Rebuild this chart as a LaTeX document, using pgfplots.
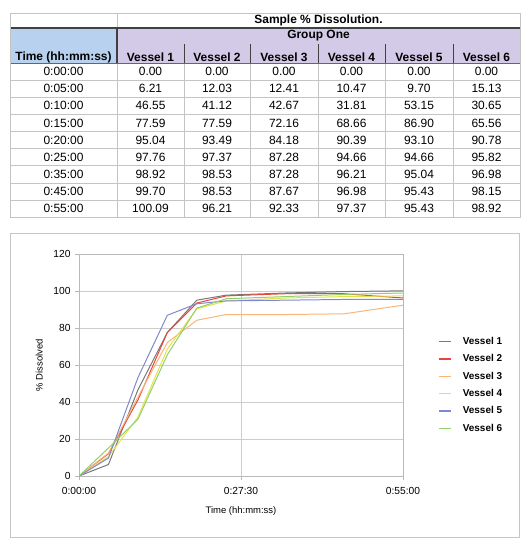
\documentclass[border=0pt]{standalone}
\usepackage{fontspec}
\setmainfont{Liberation Sans}
\usepackage{pgfplots}
\usepackage{pgfplotstable}
\pgfplotsset{compat=1.18}
\definecolor{hdblue}{HTML}{B7D1EE}
\definecolor{hdpurple}{HTML}{D2CAE6}
\definecolor{cellline}{HTML}{C4C4C4}
\definecolor{vone}{HTML}{787878}
\definecolor{vtwo}{HTML}{E8453C}
\definecolor{vthree}{HTML}{FBB577}
\definecolor{vfour}{HTML}{E4E24A}
\definecolor{vfive}{HTML}{7D88D2}
\definecolor{vsix}{HTML}{92D06C}

% sample % dissolution, time in minutes
\pgfplotstableread{
t       min v1     v2    v3    v4    v5    v6
0:00:00 0   0.00   0.00  0.00  0.00  0.00  0.00
0:05:00 5   6.21   12.03 12.41 10.47 9.70  15.13
0:10:00 10  46.55  41.12 42.67 31.81 53.15 30.65
0:15:00 15  77.59  77.59 72.16 68.66 86.90 65.56
0:20:00 20  95.04  93.49 84.18 90.39 93.10 90.78
0:25:00 25  97.76  97.37 87.28 94.66 94.66 95.82
0:35:00 35  98.92  98.53 87.28 96.21 95.04 96.98
0:45:00 45  99.70  98.53 87.67 96.98 95.43 98.15
0:55:00 55  100.09 96.21 92.33 97.37 95.43 98.92
}\diss

\begin{document}
\begin{tikzpicture}
\useasboundingbox (0,0) rectangle (530bp,-550bp);

% ---- table ----
\begin{scope}[x=1bp,y=-1bp]
  \fill[hdblue] (10,28) rectangle (117,63);
  \fill[hdpurple] (117,28) rectangle (520,63);
  \foreach \k in {1,...,8} \draw[cellline] (10,63+17.1*\k) -- (520,63+17.1*\k);
  \foreach \xx in {184,250,318,385,453} {
    \draw[cellline] (\xx,63) -- (\xx,217);
    \draw[black!75,line width=0.9pt] (\xx,44) -- (\xx,63);
  }
  \draw[cellline] (117,13) -- (117,28);
  \draw[cellline] (117,63) -- (117,217);
  \draw[black!75,line width=1.1pt] (117,28) -- (117,63);
  \draw[black!75,line width=1.1pt] (10,28) -- (520,28);
  \draw[black!60,line width=0.7pt] (10,63) -- (520,63);
  \draw[cellline] (10,13) rectangle (520,217);

  \begin{scope}[every node/.style={font=\bfseries\fontsize{12}{14}\selectfont, inner sep=0pt}]
    \node at (318.5,20.5) {Sample \% Dissolution.};
    \node at (318.5,36) {Group One};
    \node at (63.5,57) {Time (hh:mm:ss)};
    \foreach \c [count=\i from 0] in {150.5,217,284,351.5,419,486.5}
      \node at (\c,57) {Vessel \pgfmathparse{int(\i+1)}\pgfmathresult};
  \end{scope}

  \begin{scope}[every node/.style={font=\fontsize{12}{14}\selectfont, inner sep=0pt}]
    \foreach \r in {0,...,8} {
      \pgfplotstablegetelem{\r}{t}\of\diss
      \node at (63.5,71.6+17.1*\r) {\pgfplotsretval};
      \foreach \col/\c in {v1/150.5,v2/217,v3/284,v4/351.5,v5/419,v6/486.5} {
        \pgfplotstablegetelem{\r}{\col}\of\diss
        \node at (\c,71.6+17.1*\r) {\pgfplotsretval};
      }
    }
  \end{scope}

  % chart frame
  \draw[gray!45] (10,233) rectangle (519,537);
\end{scope}

% ---- chart ----
\begin{axis}[
  at={(79bp,-476bp)}, anchor=south west,
  scale only axis, width=324bp, height=222bp,
  xmin=0, xmax=55, ymin=0, ymax=120,
  xtick={0,27.5,55}, xticklabels={0:00:00,0:27:30,0:55:00},
  ytick={0,20,...,120},
  grid=major, grid style={gray!40, line width=0.7pt},
  axis line style={gray!55, line width=0.7pt},
  tick style={gray!55, line width=0.7pt},
  tick align=outside, major tick length=4bp,
  xtick pos=bottom, ytick pos=left,
  /pgf/number format/assume math mode=true,
  ticklabel style={font=\fontsize{10.3}{12}\selectfont},
  yticklabel style={xshift=-1bp},
  xticklabel style={yshift=-4bp},
  xlabel={Time (hh:mm:ss)}, ylabel={\% Dissolved},
  label style={font=\fontsize{9.5}{11}\selectfont},
  xlabel style={at={(axis description cs:0.5,0)}, anchor=center, yshift=-35bp},
  ylabel style={at={(axis description cs:-0.123,0.5)}, anchor=center},
  legend style={at={(1.1,0.41)}, anchor=west, draw=none, fill=none,
    font=\bfseries\fontsize{10}{12}\selectfont, row sep=6.6bp,
    nodes={inner sep=1bp},
    /tikz/every odd column/.append style={column sep=10bp}},
  legend cell align=left,
  legend image code/.code={\draw[#1, line width=1.2pt] (0,0) -- (12bp,0);},
  every axis plot/.append style={line width=1pt},
]
\addplot[vone]   table[x=min,y=v1] {\diss}; \addlegendentry{Vessel 1}
\addplot[vtwo]   table[x=min,y=v2] {\diss}; \addlegendentry{Vessel 2}
\addplot[vthree] table[x=min,y=v3] {\diss}; \addlegendentry{Vessel 3}
\addplot[vfour]  table[x=min,y=v4] {\diss}; \addlegendentry{Vessel 4}
\addplot[vfive]  table[x=min,y=v5] {\diss}; \addlegendentry{Vessel 5}
\addplot[vsix]   table[x=min,y=v6] {\diss}; \addlegendentry{Vessel 6}
\end{axis}
\end{tikzpicture}
\end{document}
